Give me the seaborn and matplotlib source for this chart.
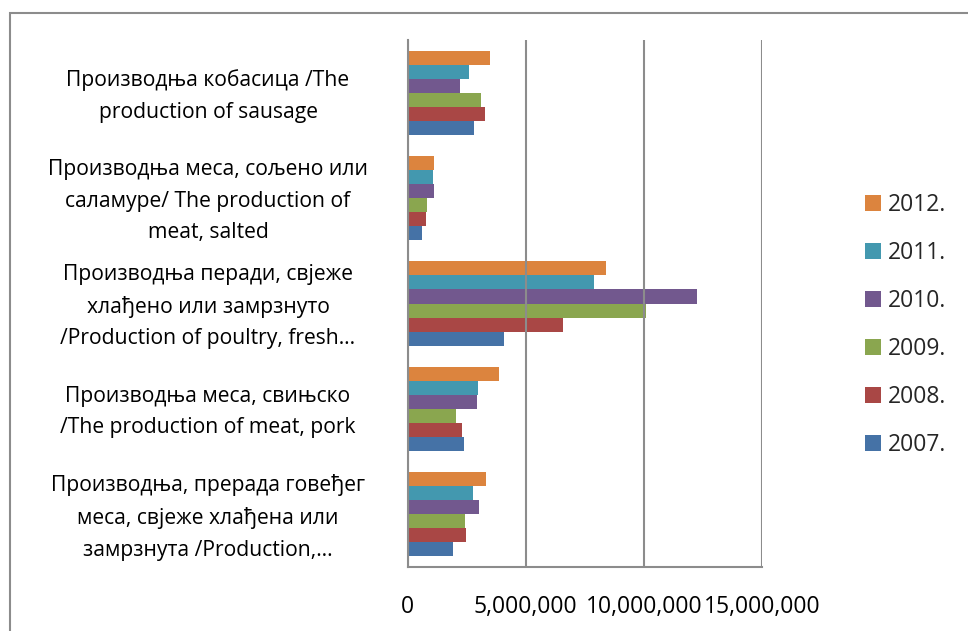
import matplotlib
matplotlib.use("Agg")
import matplotlib.pyplot as plt
import matplotlib.transforms as mtransforms
import seaborn as sns
import pandas as pd
from matplotlib.patches import Rectangle

categories = [
    "Производња кобасица /The\nproduction of sausage",
    "Производња меса, сољено или\nсаламуре/ The production of\nmeat, salted",
    "Производња перади, свјеже\nхлађено или замрзнуто\n/Production of poultry, fresh…",
    "Производња меса, свињско\n/The production of meat, pork",
    "Производња, прерада говеђег\nмеса, свјеже хлађена или\nзамрзнута /Production,…",
]
years = ["2012.", "2011.", "2010.", "2009.", "2008.", "2007."]
v2012 = [3510000, 1110000, 8410000, 3890000, 3340000]
v2011 = [2620000, 1090000, 7900000, 2990000, 2760000]
v2010 = [2240000, 1110000, 12270000, 2920000, 3020000]
v2009 = [3130000, 840000, 10110000, 2040000, 2450000]
v2008 = [3280000, 770000, 6600000, 2310000, 2490000]
v2007 = [2800000, 630000, 4100000, 2380000, 1940000]
colors = ["#DC843E", "#4398AF", "#72588E", "#8AA64F", "#A94745", "#4572A6"]
xticks = [0, 5000000, 10000000, 15000000]
xtick_labels = ["0", "5,000,000", "10,000,000", "15,000,000"]

series = [v2012, v2011, v2010, v2009, v2008, v2007]
rows = []
for yr, vals in zip(years, series):
    for cat, v in zip(categories, vals):
        rows.append({"category": cat, "year": yr, "value": v})
df = pd.DataFrame(rows)

sns.set_theme(style="white")
plt.rcParams["font.family"] = ["Open Sans", "DejaVu Sans"]

W, H = 968, 631
fig = plt.figure(figsize=(W / 100, H / 100), dpi=100)
x0, x1, yt, yb = 407.5, 762, 40, 567
ax = fig.add_axes([x0 / W, 1 - yb / H, (x1 - x0) / W, (yb - yt) / H])

sns.barplot(data=df, x="value", y="category", hue="year", hue_order=years,
            order=categories, palette=colors, orient="h", width=0.8,
            saturation=1, ax=ax, edgecolor="none")

grid_c = "#8C8C8C"
ax.set_xlim(0, 15000000)
ax.set_xticks(xticks)
ax.set_xticklabels(xtick_labels, fontsize=16.5, color="black")
ax.set_yticks(range(len(categories)))
ax.set_yticklabels(categories, fontsize=15.2, color="black", ha="center",
                   linespacing=1.65)
ax.tick_params(axis="x", length=0, pad=20)
ax.tick_params(axis="y", length=0, pad=143.6)
shift = mtransforms.ScaledTranslation(0, 4.5 / 100, fig.dpi_scale_trans)
for lab in ax.get_yticklabels():
    lab.set_transform(lab.get_transform() + shift)
ax.xaxis.grid(True, color=grid_c, linewidth=1.5)
ax.yaxis.grid(False)
ax.set_axisbelow(False)
for s in ["top", "right"]:
    ax.spines[s].set_visible(False)
for s in ["left", "bottom"]:
    ax.spines[s].set_color(grid_c)
    ax.spines[s].set_linewidth(1.5)
ax.set_xlabel("")
ax.set_ylabel("")

handles, labels = ax.get_legend_handles_labels()
ax.get_legend().remove()
fig.legend(handles, labels, loc="upper left",
           bbox_to_anchor=(865 / W, 1 - 193 / H), frameon=False,
           fontsize=16.5, handlelength=0.68, handleheight=0.68,
           handletextpad=0.3, labelspacing=1.05, borderpad=0,
           borderaxespad=0)

fig.patches.append(Rectangle((9.5 / W, -0.1), 1.2, 1 - 12.5 / H + 0.1,
                             transform=fig.transFigure, fill=False,
                             edgecolor=grid_c, linewidth=1.5))

fig.savefig("out.png", dpi=100)
